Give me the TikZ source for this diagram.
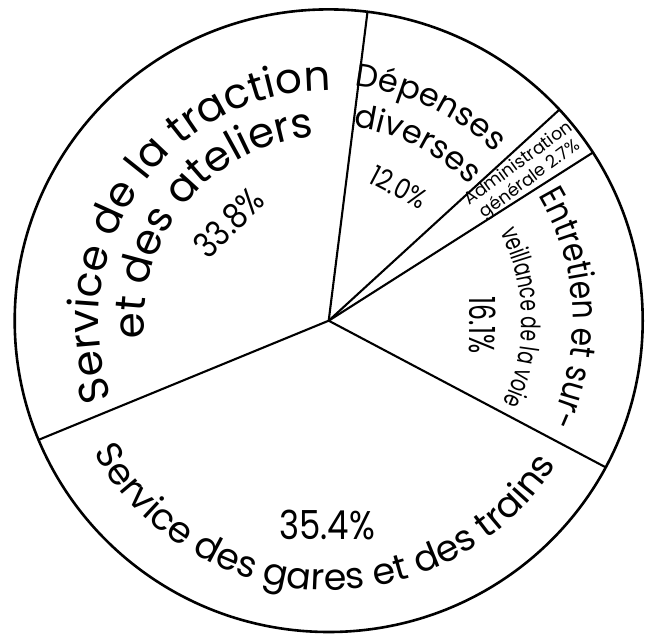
\documentclass[tikz,border=0pt]{standalone}
\usepackage{fontspec}
\setmainfont{Poppins}
\newfontfamily\fa{Poppins}
\newfontfamily\fb[FakeStretch=0.85]{Poppins}
\newfontfamily\fc[FakeStretch=0.7]{Poppins}
\usetikzlibrary{decorations.text,calc}
\begin{document}
\begin{tikzpicture}[x=1pt,y=1pt,
  rim/.style={line width=2.6pt},
  spoke/.style={line width=2.1pt, line cap=round},
  arctext/.style={decorate, decoration={text along path, text align=center, text={#1}}},
  lbl/.style={inner sep=0pt, align=center}]
\useasboundingbox (0,0) rectangle (656,633);
\coordinate (O) at (328.7,312.3);
\path (O) ++(82.9:314 and 311.3) coordinate (pa)
      (O) ++(42.7:314 and 311.3) coordinate (pb)
      (O) ++(32.7:314 and 311.3) coordinate (pc)
      (O) ++(-28.1:314 and 311.3) coordinate (pd)
      (O) ++(202.5:314 and 311.3) coordinate (pe);
\draw[rim] (O) ellipse [x radius=314, y radius=311.3];
\draw[spoke] (O) -- (pa);
\draw[spoke] (O) -- (pb);
\draw[spoke] (O) -- (pc);
\draw[spoke] (O) -- (pd);
\draw[spoke] (O) -- (pe);
% Service de la traction et des ateliers
\path[arctext={|\fa\fontsize{42}{42}\selectfont|Service de la traction}]
  (O) ++(209.5:230) arc[start angle=209.5, end angle=79.5, radius=230];
\path[arctext={|\fa\fontsize{42}{42}\selectfont|et des ateliers}]
  (O) ++(200:184.5) arc[start angle=200, end angle=80, radius=184.5];
\node[lbl, font=\fb\fontsize{35}{35}\selectfont, rotate=45] (t1) at ($(O)+(135.5:140)$) {33.8\%};
% Depenses diverses
\path[arctext={|\fa\fontsize{32}{32}\selectfont|Dépenses}]
  (O) ++(94.6:236) arc[start angle=94.6, end angle=34.6, radius=236];
\path[arctext={|\fa\fontsize{32}{32}\selectfont|diverses}]
  (O) ++(93.3:195) arc[start angle=93.3, end angle=33.3, radius=195];
\node[lbl, font=\fb\fontsize{28}{28}\selectfont, rotate=-27.7] (t2) at ($(O)+(62.3:151)$) {12.0\%};
% Administration generale
\node[lbl, font=\fa\fontsize{17.5}{19}\selectfont, rotate=36.4] (t3) at ($(O)+(37.2:246)$) {Administration\\générale 2.7\%};
% Entretien
\path[arctext={|\fb\fontsize{35}{35}\selectfont|Entretien et sur-}]
  (O) ++(48:244) arc[start angle=48, end angle=-42, radius=244];
\path[arctext={|\fc\fontsize{26.5}{26.5}\selectfont|veillance de la voie}]
  (O) ++(41:193) arc[start angle=41, end angle=-39, radius=193];
\node[lbl, font=\fc\fontsize{36}{36}\selectfont, rotate=-90] (t4) at ($(O)+(-1.6:154.4)$) {16.1\%};
% Service des gares et des trains
\path[arctext={|\fa\fontsize{36.5}{36.5}\selectfont|Service des gares et des trains}]
  (O) ++(193.5:269.5) arc[start angle=193.5, end angle=343.5, radius=269.5];
\node[lbl, font=\fb\fontsize{40}{40}\selectfont] (t5) at (327,108) {35.4\%};
\end{tikzpicture}
\end{document}
